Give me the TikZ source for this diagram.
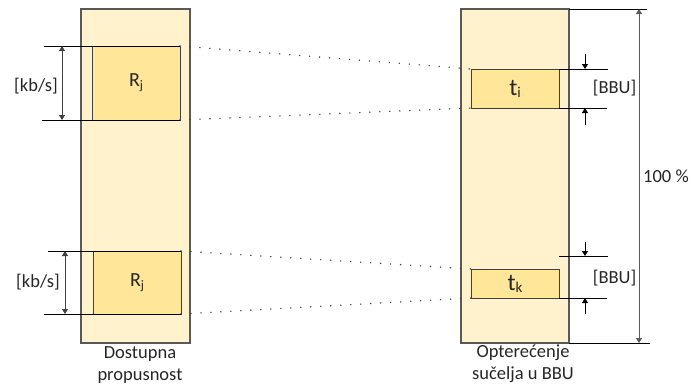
\documentclass[tikz,border=0pt]{standalone}
\usepackage{fontspec}
\setmainfont{Carlito}
\usetikzlibrary{arrows.meta}
\definecolor{colfill}{HTML}{FFF2CC}
\definecolor{boxfill}{HTML}{FFE699}
\definecolor{edge}{HTML}{595959}
\definecolor{boxedge}{HTML}{404040}
\definecolor{txt}{HTML}{262626}
\begin{document}
\begin{tikzpicture}[x=1pt,y=-1pt,
  colbox/.style={draw=edge, fill=colfill, line width=1.5pt, inner sep=0pt, outer sep=0pt, minimum width=109pt, minimum height=334pt},
  valbox/.style={draw=boxedge, fill=boxfill, line width=1pt, inner sep=0pt, outer sep=0pt, minimum width=88pt, text=txt},
  dimline/.style={draw=black, line width=0.8pt},
  dimarrow/.style={draw=boxedge, line width=0.9pt, {Triangle[width=6pt,length=5pt]}-{Triangle[width=6pt,length=5pt]}},
  endarrow/.style={draw=black, line width=0.8pt, -{Triangle[width=6pt,length=5pt]}},
  dotline/.style={draw=boxedge, line width=1.6pt, line cap=round, dash pattern=on 0pt off 10pt},
  lbl/.style={text=txt, font=\fontsize{18.5}{22}\selectfont, inner sep=0pt, align=center}
]
\useasboundingbox (0,0) rectangle (692,388);

% columns
\node[colbox] (colL) at (135.5,176) {};
\node[colbox, minimum width=108pt] (colR) at (515,176) {};

% value boxes
\node[valbox, minimum height=74pt] (Rtop) at (136,83) {\fontsize{20}{20}\selectfont R\raisebox{-3pt}{\fontsize{13}{13}\selectfont j}};
\node[valbox, minimum height=63pt] (Rbot) at (137,282.5) {\fontsize{20}{20}\selectfont R\raisebox{-3pt}{\fontsize{13}{13}\selectfont j}};
\node[valbox, minimum height=39pt] (ti) at (515,88.5) {\fontsize{24}{24}\selectfont t\raisebox{-2pt}{\fontsize{15}{15}\selectfont i}};
\node[valbox, minimum height=29pt] (tk) at (515,283.5) {\fontsize{24}{24}\selectfont t\raisebox{-2pt}{\fontsize{15}{15}\selectfont k}};

% dotted connectors
\draw[dotline] (Rtop.north east) -- (ti.north west);
\draw[dotline] (Rtop.south east) -- (ti.south west);
\draw[dotline] (Rbot.north east) -- (tk.north west);
\draw[dotline] (Rbot.south east) -- (tk.south west);

% left dimension lines
\coordinate (l1) at (44,46);
\coordinate (l2) at (42,120);
\coordinate (l3) at (48,251);
\coordinate (l4) at (44,314);
\draw[dimline] (l1) -- (Rtop.north east);
\draw[dimline] (l2) -- (Rtop.south east);
\draw[dimline] (l3) -- (Rbot.north east);
\draw[dimline] (l4) -- (Rbot.south east);
\coordinate (a1) at (62,46);
\coordinate (a2) at (62,120);
\coordinate (a3) at (65,251);
\coordinate (a4) at (65,314);
\draw[dimarrow] (a1) -- (a2);
\draw[dimarrow] (a3) -- (a4);
\node[lbl] (kb1) at (36,86) {[kb/s]};
\node[lbl] (kb2) at (38,282) {[kb/s]};

% right dimension lines for t_i
\coordinate (r1) at (608,69);
\coordinate (r2) at (607,108);
\draw[dimline] (ti.north east) -- (r1);
\draw[dimline] (ti.south east) -- (r2);
\coordinate (s1) at (585,54);
\coordinate (s2) at (585,69);
\coordinate (s3) at (585,125);
\coordinate (s4) at (585,108);
\draw[endarrow] (s1) -- (s2);
\draw[endarrow] (s3) -- (s4);
\node[lbl] (bbu1) at (614.5,88.5) {[BBU]};

% right dimension lines for t_k
\coordinate (r3a) at (559,256);
\coordinate (r3) at (608,256);
\coordinate (r4) at (607,298);
\draw[dimline] (r3a) -- (r3);
\draw[dimline] (tk.south east) -- (r4);
\coordinate (u1) at (585,242);
\coordinate (u2) at (585,256);
\coordinate (u3) at (585,314);
\coordinate (u4) at (585,298);
\draw[endarrow] (u1) -- (u2);
\draw[endarrow] (u3) -- (u4);
\node[lbl] (bbu2) at (614.5,278) {[BBU]};

% 100 % dimension
\coordinate (h1) at (647,9);
\coordinate (h2) at (650,343);
\draw[dimline] (colR.north east) -- (h1);
\draw[dimline] (colR.south east) -- (h2);
\coordinate (v1) at (639,9);
\coordinate (v2) at (639,343);
\draw[dimarrow, draw=edge] (v1) -- (v2);
\node[lbl, anchor=west] (pct) at (643,176) {100 \%};

% captions
\node[lbl] (capL) at (140,365) {Dostupna\\propusnost};
\node[lbl] (capR) at (523,364) {Optere\'cenje\\su\v{c}elja u BBU};
\end{tikzpicture}
\end{document}
